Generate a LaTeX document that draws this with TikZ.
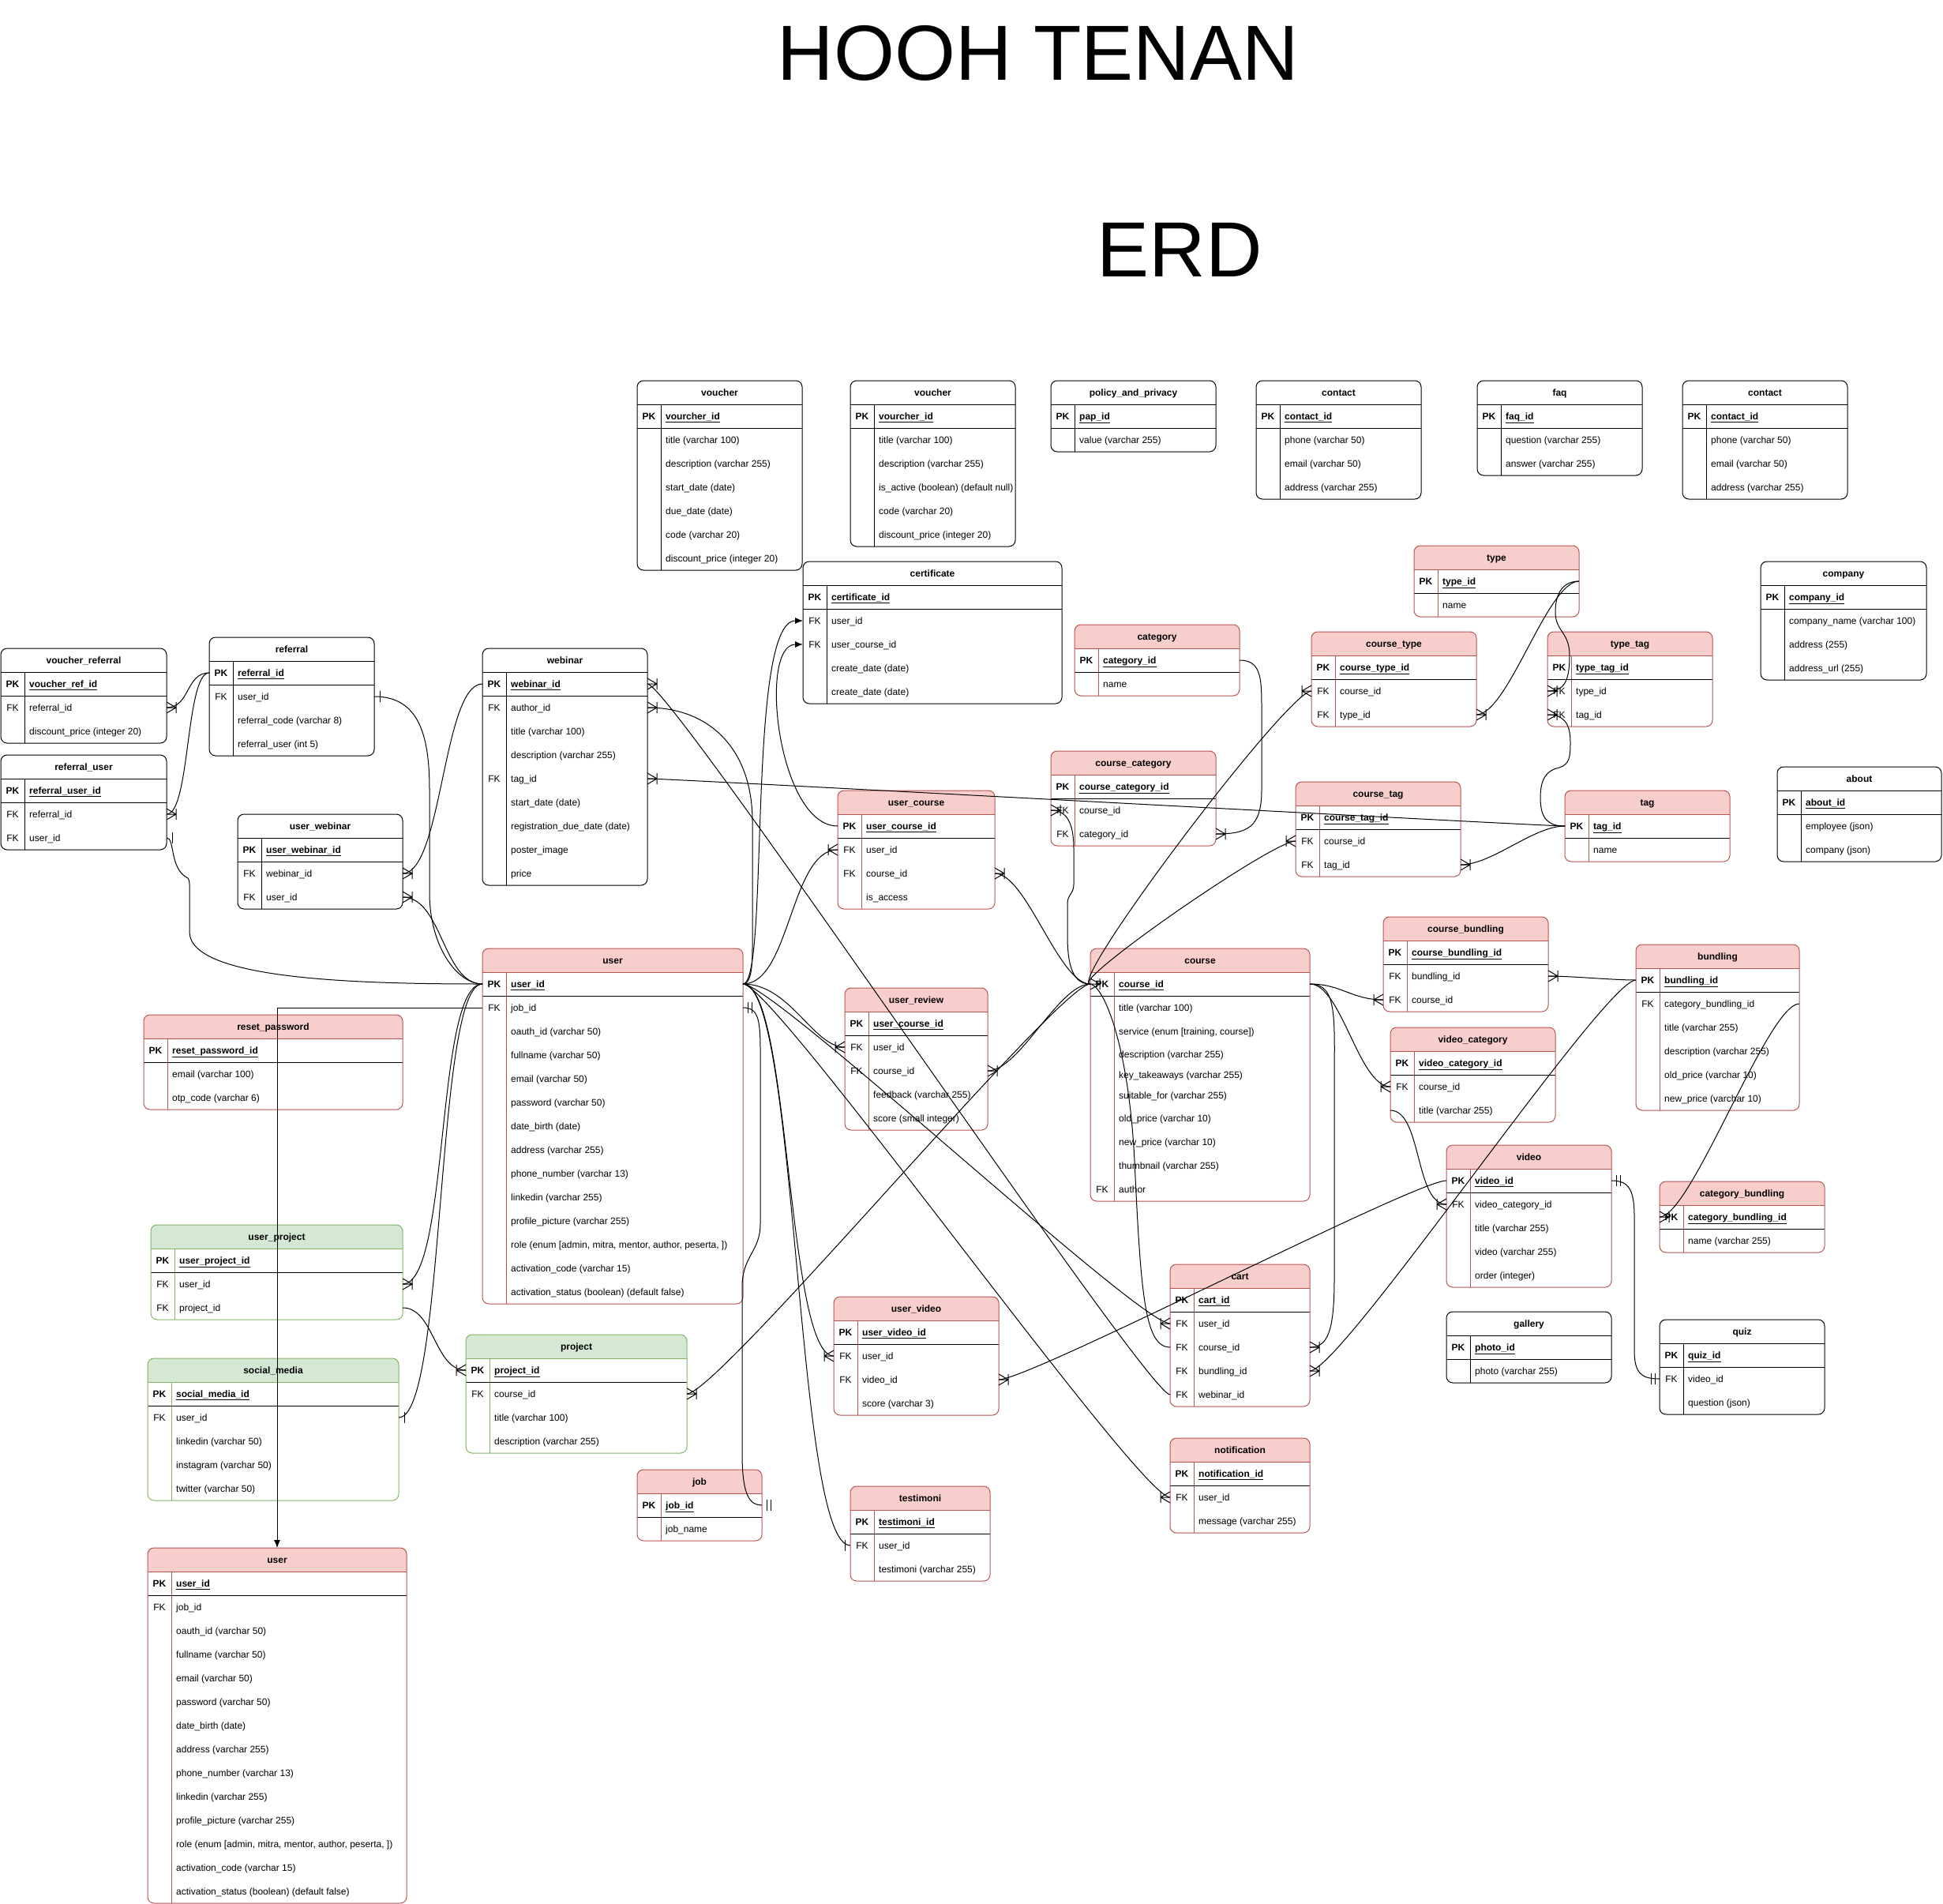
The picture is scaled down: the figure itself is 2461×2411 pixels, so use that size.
\documentclass[tikz,border=0pt]{standalone}
\usepackage{fontspec}
\setmainfont{Liberation Sans}
\usetikzlibrary{calc,arrows.meta}
\definecolor{pinkf}{HTML}{F8CECC}
\definecolor{pinkd}{HTML}{B85450}
\definecolor{greenf}{HTML}{D5E8D4}
\definecolor{greend}{HTML}{82B366}
\newcounter{erdrow}
\tikzset{
 rowbox/.style={inner sep=0pt,outer sep=0pt,anchor=north west},
 keytxt/.style={inner sep=0pt,anchor=base,font=\fontsize{12}{14}\selectfont},
 valtxt/.style={inner sep=0pt,anchor=base west,font=\fontsize{12}{14}\selectfont},
 titletxt/.style={inner sep=0pt,anchor=base,font=\fontsize{12}{14}\selectfont\bfseries},
 conn/.style={draw=black,line width=1pt},
 mk/.style={draw=black,line width=1pt},
 arr/.style={-{Latex[length=10pt,width=8pt]}},
 bigtitle/.style={inner sep=0pt,font=\fontsize{99}{110}\selectfont}
}
\newcommand\erdtbl[8]{%
 \xdef\eTid{#1}\xdef\eTx{#2}\xdef\eTw{#4}%
 \pgfmathsetmacro\eTmp{#3+#5}\xdef\eTb{\eTmp}%
 \pgfmathsetmacro\eTmp{#2+#4}\xdef\eTr{\eTmp}%
 \begin{scope}
  \clip[rounded corners=8pt] (#2,#3) rectangle (\eTr,\eTb);
  \fill[white] (#2,#3) rectangle (\eTr,\eTb);
  \fill[#6] (#2,#3) rectangle (\eTr,#3+30);
 \end{scope}
 \draw[#7,line width=1pt] (#2,#3+30) -- (\eTr,#3+30);
 \draw[#7,line width=1pt] (#2+30,#3+30) -- (#2+30,\eTb);
 \draw[black,line width=1pt] (#2,#3+60) -- (\eTr,#3+60);
 \draw[#7,line width=1pt,rounded corners=8pt] (#2,#3) rectangle (\eTr,\eTb);
 \node[titletxt] at (#2+#4/2,#3+19.5) {#8};
 \coordinate (#1-top) at (#2+#4/2,#3);
 \setcounter{erdrow}{0}%
 \pgfmathsetmacro\eTmp{#3+30}\xdef\eCurY{\eTmp}%
}
\newcommand\ptbl[6]{\erdtbl{#1}{#2}{#3}{#4}{#5}{pinkf}{pinkd}{#6}}
\newcommand\wtbl[6]{\erdtbl{#1}{#2}{#3}{#4}{#5}{white}{black}{#6}}
\newcommand\gtbl[6]{\erdtbl{#1}{#2}{#3}{#4}{#5}{greenf}{greend}{#6}}
\newcommand\erdrowh[3]{%
 \stepcounter{erdrow}%
 \edef\eName{\eTid-\theerdrow}%
 \pgfmathsetmacro\eTmp{\eCurY+#3/2+4.5}%
 \node[rowbox,minimum width=\eTw pt,minimum height=#3pt] (\eName) at (\eTx,\eCurY) {};
 \node[keytxt] at (\eTx+15,\eTmp) {#1};
 \node[valtxt] at (\eTx+36,\eTmp) {#2};
 \pgfmathsetmacro\eTmp{\eCurY+#3}\xdef\eCurY{\eTmp}%
}
\newcommand\erdpk[1]{\erdrowh{\textbf{PK}}{\underline{\textbf{#1}}}{30}}
\newcommand\erdrow[2]{\erdrowh{#1}{#2}{30}}
\newcommand\mkcrow[2]{\draw[mk] ($(#1)+(#2*12,0)$) -- ($(#1)+(0,-7)$) ($(#1)+(#2*12,0)$) -- (#1) ($(#1)+(#2*12,0)$) -- ($(#1)+(0,7)$) ($(#1)+(#2*12,-7)$) -- ($(#1)+(#2*12,7)$);}
\newcommand\mkone[2]{\draw[mk] ($(#1)+(#2*7,-7)$) -- ($(#1)+(#2*7,7)$);}
\newcommand\mkmone[2]{\draw[mk] ($(#1)+(#2*6,-7)$) -- ($(#1)+(#2*6,7)$) ($(#1)+(#2*11,-7)$) -- ($(#1)+(#2*11,7)$);}
\newcommand\cvv[4]{\draw[conn] (#1) .. controls ($(#1)+(#3,0)$) and ($(#2)+(#4,0)$) .. (#2);}
\begin{document}
\begin{tikzpicture}[x=1pt,y=-1pt]
\fill[white] (0,0) rectangle (2461,2411);
\useasboundingbox (0,0) rectangle (2461,2411);
\node[bigtitle] (t1) at (1315,67) {HOOH TENAN};
\node[bigtitle] (t2) at (1494,316) {ERD};

% ---------- top row
\wtbl{va}{807}{482}{209}{240}{voucher}
\erdpk{vourcher\_id}
\erdrow{}{title (varchar 100)}
\erdrow{}{description (varchar 255)}
\erdrow{}{start\_date (date)}
\erdrow{}{due\_date (date)}
\erdrow{}{code (varchar 20)}
\erdrow{}{discount\_price (integer 20)}

\wtbl{vb}{1077}{482}{209}{210}{voucher}
\erdpk{vourcher\_id}
\erdrow{}{title (varchar 100)}
\erdrow{}{description (varchar 255)}
\erdrow{}{is\_active (boolean) (default null)}
\erdrow{}{code (varchar 20)}
\erdrow{}{discount\_price (integer 20)}

\wtbl{pap}{1331}{482}{209}{90}{policy\_and\_privacy}
\erdpk{pap\_id}
\erdrow{}{value (varchar 255)}

\wtbl{cta}{1591}{482}{209}{150}{contact}
\erdpk{contact\_id}
\erdrow{}{phone (varchar 50)}
\erdrow{}{email (varchar 50)}
\erdrow{}{address (varchar 255)}

\wtbl{faq}{1871}{482}{209}{120}{faq}
\erdpk{faq\_id}
\erdrow{}{question (varchar 255)}
\erdrow{}{answer (varchar 255)}

\wtbl{ctb}{2131}{482}{209}{150}{contact}
\erdpk{contact\_id}
\erdrow{}{phone (varchar 50)}
\erdrow{}{email (varchar 50)}
\erdrow{}{address (varchar 255)}

\wtbl{cert}{1017}{711}{328}{180}{certificate}
\erdpk{certificate\_id}
\erdrow{FK}{user\_id}
\erdrow{FK}{user\_course\_id}
\erdrow{}{create\_date (date)}
\erdrow{}{create\_date (date)}

\ptbl{type}{1791}{691}{209}{90}{type}
\erdpk{type\_id}
\erdrow{}{name}

\wtbl{comp}{2230}{711}{210}{150}{company}
\erdpk{company\_id}
\erdrow{}{company\_name (varchar 100)}
\erdrow{}{address (255)}
\erdrow{}{address\_url (255)}

\ptbl{cat}{1361}{791}{209}{90}{category}
\erdpk{category\_id}
\erdrow{}{name}

\ptbl{ctype}{1661}{800}{209}{120}{course\_type}
\erdpk{course\_type\_id}
\erdrow{FK}{course\_id}
\erdrow{FK}{type\_id}

\ptbl{ttag}{1960}{800}{209}{120}{type\_tag}
\erdpk{type\_tag\_id}
\erdrow{FK}{type\_id}
\erdrow{FK}{tag\_id}

% ---------- left
\wtbl{vref}{1}{821}{210}{120}{voucher\_referral}
\erdpk{voucher\_ref\_id}
\erdrow{FK}{referral\_id}
\erdrow{}{discount\_price (integer 20)}

\wtbl{ref}{265}{807}{209}{150}{referral}
\erdpk{referral\_id}
\erdrow{FK}{user\_id}
\erdrow{}{referral\_code (varchar 8)}
\erdrow{}{referral\_user (int 5)}

\wtbl{web}{611}{821}{209}{300}{webinar}
\erdpk{webinar\_id}
\erdrow{FK}{author\_id}
\erdrow{}{title (varchar 100)}
\erdrow{}{description (varchar 255)}
\erdrow{FK}{tag\_id}
\erdrow{}{start\_date (date)}
\erdrow{}{registration\_due\_date (date)}
\erdrow{}{poster\_image}
\erdrow{}{price}

\wtbl{refu}{1}{956}{210}{120}{referral\_user}
\erdpk{referral\_user\_id}
\erdrow{FK}{referral\_id}
\erdrow{FK}{user\_id}

\wtbl{uweb}{301}{1031}{209}{120}{user\_webinar}
\erdpk{user\_webinar\_id}
\erdrow{FK}{webinar\_id}
\erdrow{FK}{user\_id}

\ptbl{ccat}{1331}{951}{209}{120}{course\_category}
\erdpk{course\_category\_id}
\erdrow{FK}{course\_id}
\erdrow{FK}{category\_id}

\ptbl{ucourse}{1061}{1001}{199}{150}{user\_course}
\erdpk{user\_course\_id}
\erdrow{FK}{user\_id}
\erdrow{FK}{course\_id}
\erdrow{}{is\_access}

\ptbl{ctag}{1641}{990}{209}{120}{course\_tag}
\erdpk{course\_tag\_id}
\erdrow{FK}{course\_id}
\erdrow{FK}{tag\_id}

\ptbl{tag}{1982}{1001}{209}{90}{tag}
\erdpk{tag\_id}
\erdrow{}{name}

\wtbl{about}{2251}{971}{208}{120}{about}
\erdpk{about\_id}
\erdrow{}{employee (json)}
\erdrow{}{company (json)}

\ptbl{user}{611}{1201}{330}{450}{user}
\erdpk{user\_id}
\erdrow{FK}{job\_id}
\erdrow{}{oauth\_id (varchar 50)}
\erdrow{}{fullname (varchar 50)}
\erdrow{}{email (varchar 50)}
\erdrow{}{password (varchar 50)}
\erdrow{}{date\_birth (date)}
\erdrow{}{address (varchar 255)}
\erdrow{}{phone\_number (varchar 13)}
\erdrow{}{linkedin (varchar 255)}
\erdrow{}{profile\_picture (varchar 255)}
\erdrow{}{role (enum [admin, mitra, mentor, author, peserta, ])}
\erdrow{}{activation\_code (varchar 15)}
\erdrow{}{activation\_status (boolean) (default false)}

\ptbl{cbund}{1752}{1161}{209}{120}{course\_bundling}
\erdpk{course\_bundling\_id}
\erdrow{FK}{bundling\_id}
\erdrow{FK}{course\_id}

\ptbl{bund}{2072}{1196}{207}{210}{bundling}
\erdpk{bundling\_id}
\erdrow{FK}{category\_bundling\_id}
\erdrow{}{title (varchar 255)}
\erdrow{}{description (varchar 255)}
\erdrow{}{old\_price (varchar 10)}
\erdrow{}{new\_price (varchar 10)}

\ptbl{course}{1381}{1201}{278}{320}{course}
\erdpk{course\_id}
\erdrow{}{title (varchar 100)}
\erdrow{}{service (enum [training, course])}
\erdrowh{}{description (varchar 255)}{28}
\erdrowh{}{key\_takeaways (varchar 255)}{24}
\erdrowh{}{suitable\_for (varchar 255)}{28}
\erdrow{}{old\_price (varchar 10)}
\erdrow{}{new\_price (varchar 10)}
\erdrow{}{thumbnail (varchar 255)}
\erdrow{FK}{author}

\ptbl{vcat}{1761}{1301}{209}{120}{video\_category}
\erdpk{video\_category\_id}
\erdrow{FK}{course\_id}
\erdrow{}{title (varchar 255)}

\ptbl{urev}{1070}{1251}{181}{180}{user\_review}
\erdpk{user\_course\_id}
\erdrow{FK}{user\_id}
\erdrow{FK}{course\_id}
\erdrow{}{feedback (varchar 255)}
\erdrow{}{score (small integer)}

\ptbl{reset}{182}{1285}{328}{120}{reset\_password}
\erdpk{reset\_password\_id}
\erdrow{}{email (varchar 100)}
\erdrow{}{otp\_code (varchar 6)}

\ptbl{video}{1832}{1450}{209}{180}{video}
\erdpk{video\_id}
\erdrow{FK}{video\_category\_id}
\erdrow{}{title (varchar 255)}
\erdrow{}{video (varchar 255)}
\erdrow{}{order (integer)}

\ptbl{catb}{2102}{1496}{209}{90}{category\_bundling}
\erdpk{category\_bundling\_id}
\erdrow{}{name (varchar 255)}

\gtbl{uproj}{191}{1551}{319}{120}{user\_project}
\erdpk{user\_project\_id}
\erdrow{FK}{user\_id}
\erdrow{FK}{project\_id}

\ptbl{cart}{1482}{1601}{177}{180}{cart}
\erdpk{cart\_id}
\erdrow{FK}{user\_id}
\erdrow{FK}{course\_id}
\erdrow{FK}{bundling\_id}
\erdrow{FK}{webinar\_id}

\ptbl{uvid}{1056}{1642}{209}{150}{user\_video}
\erdpk{user\_video\_id}
\erdrow{FK}{user\_id}
\erdrow{FK}{video\_id}
\erdrow{}{score (varchar 3)}

\wtbl{gal}{1832}{1661}{209}{90}{gallery}
\erdpk{photo\_id}
\erdrow{}{photo (varchar 255)}

\wtbl{quiz}{2102}{1671}{209}{120}{quiz}
\erdpk{quiz\_id}
\erdrow{FK}{video\_id}
\erdrow{}{question (json)}

\gtbl{proj}{590}{1690}{280}{150}{project}
\erdpk{project\_id}
\erdrow{FK}{course\_id}
\erdrow{}{title (varchar 100)}
\erdrow{}{description (varchar 255)}

\gtbl{smed}{187}{1720}{318}{180}{social\_media}
\erdpk{social\_media\_id}
\erdrow{FK}{user\_id}
\erdrow{}{linkedin (varchar 50)}
\erdrow{}{instagram (varchar 50)}
\erdrow{}{twitter (varchar 50)}

\ptbl{notif}{1482}{1821}{177}{120}{notification}
\erdpk{notification\_id}
\erdrow{FK}{user\_id}
\erdrow{}{message (varchar 255)}

\ptbl{job}{807}{1861}{158}{90}{job}
\erdpk{job\_id}
\erdrow{}{job\_name}

\ptbl{testi}{1077}{1882}{177}{120}{testimoni}
\erdpk{testimoni\_id}
\erdrow{FK}{user\_id}
\erdrow{}{testimoni (varchar 255)}

\ptbl{uu}{187}{1960}{328}{450}{user}
\erdpk{user\_id}
\erdrow{FK}{job\_id}
\erdrow{}{oauth\_id (varchar 50)}
\erdrow{}{fullname (varchar 50)}
\erdrow{}{email (varchar 50)}
\erdrow{}{password (varchar 50)}
\erdrow{}{date\_birth (date)}
\erdrow{}{address (varchar 255)}
\erdrow{}{phone\_number (varchar 13)}
\erdrow{}{linkedin (varchar 255)}
\erdrow{}{profile\_picture (varchar 255)}
\erdrow{}{role (enum [admin, mitra, mentor, author, peserta, ])}
\erdrow{}{activation\_code (varchar 15)}
\erdrow{}{activation\_status (boolean) (default false)}

% ================= connectors
% left cluster
\cvv{vref-2.east}{ref-1.west}{30}{-30} \mkcrow{vref-2.east}{1}
\cvv{refu-2.east}{ref-1.west}{30}{-30} \mkcrow{refu-2.east}{1}
\draw[conn] (refu-3.east) .. controls (222,1061) and (214,1100) .. (238,1112) .. controls (241,1115) and (240,1125) .. (240,1140) -- (240,1180) .. controls (240,1240) and (450,1246) .. (user-1.west);
\mkone{refu-3.east}{1}
\draw[conn] (ref-2.east) .. controls (530,882) and (544,930) .. (544,1000) -- (544,1130) .. controls (544,1200) and (580,1246) .. (user-1.west);
\mkone{ref-2.east}{1}
\cvv{uweb-2.east}{web-1.west}{50}{-50} \mkcrow{uweb-2.east}{1}
\cvv{uweb-3.east}{user-1.west}{50}{-50} \mkcrow{uweb-3.east}{1}
\cvv{uproj-2.east}{user-1.west}{60}{-60} \mkcrow{uproj-2.east}{1}
\cvv{smed-2.east}{user-1.west}{60}{-60} \mkone{smed-2.east}{1}
\draw[conn,arr] (user-2.west) -| (uu-top);
\cvv{uproj-3.east}{proj-1.west}{40}{-40} \mkcrow{proj-1.west}{-1}
\cvv{proj-2.east}{course-1.west}{40}{-40} \mkcrow{proj-2.east}{1}

% user right fan
\draw[conn,arr] (user-1.east) .. controls (975,1246) and (945,786) .. (cert-2.west);
\draw[conn,arr] (ucourse-1.west) .. controls (985,1046) and (960,816) .. (cert-3.west);
\cvv{user-1.east}{ucourse-2.west}{60}{-60} \mkcrow{ucourse-2.west}{-1}
\draw[conn] (user-1.east) .. controls (950,1246) and (953,1230) .. (953,1200) -- (953,1040) .. controls (953,950) and (900,896) .. (web-2.east);
\mkcrow{web-2.east}{1}
\cvv{web-1.east}{cart-5.west}{30}{-30} \mkcrow{web-1.east}{1}
\cvv{web-5.east}{tag-1.west}{30}{-30} \mkcrow{web-5.east}{1}
\cvv{user-1.east}{urev-2.west}{60}{-40} \mkcrow{urev-2.west}{-1}
\cvv{user-1.east}{cart-2.west}{40}{-40} \mkcrow{cart-2.west}{-1}
\cvv{user-1.east}{notif-2.west}{40}{-40} \mkcrow{notif-2.west}{-1}
\cvv{user-1.east}{uvid-2.west}{60}{-60} \mkcrow{uvid-2.west}{-1}
\cvv{user-1.east}{testi-2.west}{70}{-70} \mkone{testi-2.west}{-1}
\draw[conn] (user-2.east) .. controls (960,1276) and (963,1290) .. (963,1330) -- (963,1550) .. controls (963,1585) and (940,1590) .. (940,1630) -- (940,1840) .. controls (940,1895) and (950,1906) .. (job-1.east);
\mkmone{user-2.east}{1} \mkmone{job-1.east}{1}

% course
\cvv{course-1.west}{ctype-2.west}{-30}{-30} \mkcrow{ctype-2.west}{-1}
\cvv{course-1.west}{ctag-2.west}{-30}{-30} \mkcrow{ctag-2.west}{-1}
\draw[conn] (ccat-2.west) .. controls (1350,1026) and (1360,1040) .. (1360,1075) -- (1360,1120) .. controls (1360,1132) and (1352,1132) .. (1352,1145) -- (1352,1185) .. controls (1352,1235) and (1365,1246) .. (course-1.west);
\mkcrow{ccat-2.west}{1} \mkcrow{course-1.west}{1}
\cvv{ucourse-3.east}{course-1.west}{40}{-40} \mkcrow{ucourse-3.east}{1}
\cvv{urev-3.east}{course-1.west}{40}{-40} \mkcrow{urev-3.east}{1}
\draw[conn] (course-1.west) .. controls (1400,1250) and (1430,1330) .. (1437,1470) .. controls (1445,1640) and (1450,1706) .. (cart-3.west);
\cvv{course-1.east}{cbund-3.west}{40}{-40} \mkcrow{cbund-3.west}{-1}
\cvv{course-1.east}{vcat-2.west}{40}{-40} \mkcrow{vcat-2.west}{-1}
\draw[conn] (course-1.east) .. controls (1695,1246) and (1690,1290) .. (1690,1380) -- (1690,1620) .. controls (1690,1690) and (1680,1706) .. (cart-3.east);
\mkcrow{cart-3.east}{1}
\cvv{bund-1.west}{cbund-2.east}{-30}{30} \mkcrow{cbund-2.east}{1}
\cvv{bund-1.west}{cart-4.east}{-40}{40} \mkcrow{cart-4.east}{1}
\cvv{bund-2.east}{catb-1.west}{-40}{40} \mkcrow{catb-1.west}{1}
\cvv{vcat-3.west}{video-2.west}{40}{-40} \mkcrow{video-2.west}{-1}
\cvv{video-1.west}{uvid-3.east}{-40}{40} \mkcrow{uvid-3.east}{1}
\draw[conn] (video-1.east) .. controls (2062,1495) and (2070,1505) .. (2070,1540) -- (2070,1710) .. controls (2070,1740) and (2080,1746) .. (quiz-2.west);
\mkmone{video-1.east}{1} \mkmone{quiz-2.west}{-1}

% type / tag / category
\cvv{type-1.east}{ctype-3.east}{-40}{40} \mkcrow{ctype-3.east}{1}
\draw[conn] (type-1.east) .. controls (1982,736) and (1970,748) .. (1970,775) .. controls (1970,800) and (1988,800) .. (1988,830) .. controls (1988,868) and (1978,875) .. (ttag-2.west);
\mkcrow{ttag-2.west}{1}
\draw[conn] (tag-1.west) .. controls (1962,1046) and (1951,1038) .. (1951,1010) .. controls (1951,985) and (1960,975) .. (1975,972) .. controls (1988,968) and (1989,958) .. (1989,940) .. controls (1989,915) and (1980,905) .. (ttag-3.west);
\mkcrow{ttag-3.west}{1}
\cvv{tag-1.west}{ctag-3.east}{-40}{40} \mkcrow{ctag-3.east}{1}
\draw[conn] (cat-1.east) .. controls (1598,836) and (1598,860) .. (1598,900) -- (1598,1000) .. controls (1598,1048) and (1580,1056) .. (ccat-3.east);
\mkcrow{ccat-3.east}{1}
\end{tikzpicture}
\end{document}
